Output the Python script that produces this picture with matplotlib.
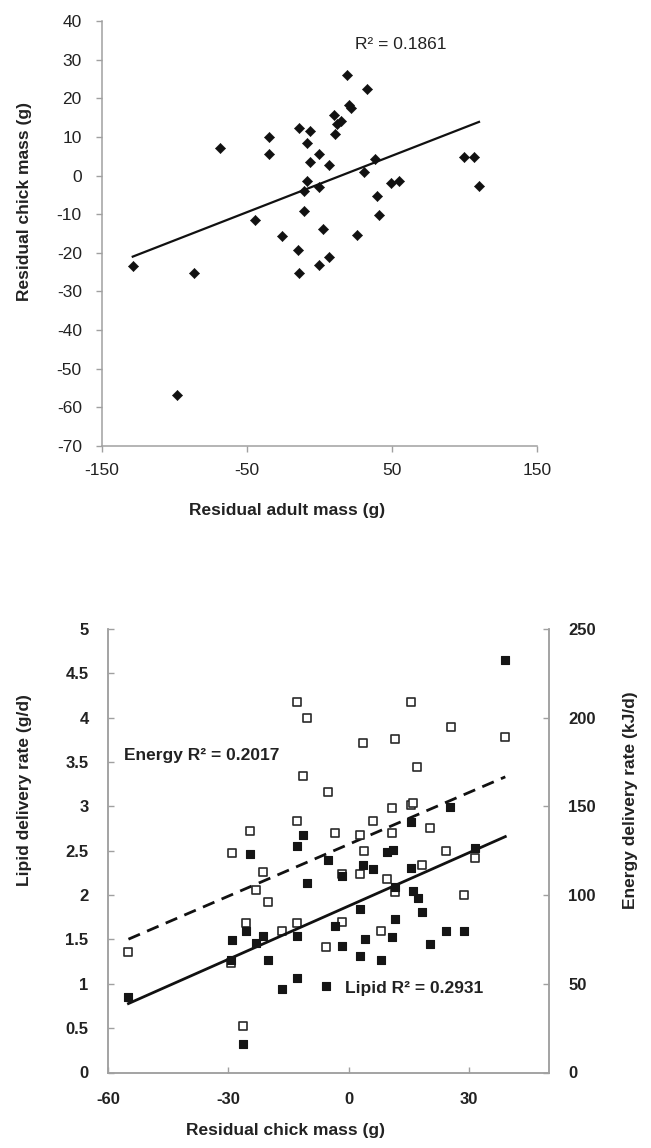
import numpy as np
import matplotlib
matplotlib.use("Agg")
import matplotlib.pyplot as plt

plt.rcParams['font.family'] = ['Liberation Sans', 'DejaVu Sans']
plt.rcParams['axes.unicode_minus'] = False

# ---------------- Data: top panel ----------------
adult_x = [-128.8, -86.3, -68.6, -34.8, -34.8, -44.7, -25.9, -13.9, -6.6, -8.4,
           -0.6, -6.6, 6.3, -8.8, -10.7, -0.1, -10.5, -14.8, -13.9, -0.6,
           6.6, 2.2, 18.8, 32.6, 20.1, 21.5, 9.8, 14.6, 11.9, 10.9,
           26.1, 30.7, 38.5, 39.7, 40.8, 49.1, 55.0, 99.9, 106.8, 110.0, -98.3]
chick_y = [-23.5, -25.1, 7.1, 9.9, 5.5, -11.4, -15.6, 12.4, 11.5, 8.5,
           5.5, 3.5, 2.7, -1.3, -3.9, -3.0, -9.2, -19.4, -25.1, -23.2,
           -21.1, -13.9, 26.1, 22.3, 18.3, 17.6, 15.7, 14.1, 13.4, 10.7,
           -15.5, 1.0, 4.4, -5.2, -10.2, -2.0, -1.3, 4.7, 4.9, -2.8, -56.8]
top_r2_label = "R\u00b2 = 0.1861"
top_xticks = [-150, -50, 50, 150]
top_yticks = [40, 30, 20, 10, 0, -10, -20, -30, -40, -50, -60, -70]

# ---------------- Data: bottom panel ----------------
lipid_x = [39.1, -11.4, -12.9, -24.7, -5.0, 25.4, 15.6, 9.6, 11.1, 31.6,
           3.5, 6.0, 15.6, -1.7, -10.4, 11.6, 16.1, 17.2, 2.8, 18.2,
           11.6, -3.4, -25.7, 24.4, 28.7, -29.1, -21.4, -23.0, -12.9, 4.0,
           10.9, -1.7, 20.2, -29.4, -20.1, 2.8, 8.0, -12.8, -16.7, -5.6,
           -54.9, -26.4]
lipid_y = [4.65, 2.68, 2.55, 2.46, 2.40, 2.99, 2.82, 2.49, 2.51, 2.53,
           2.34, 2.29, 2.30, 2.21, 2.14, 2.09, 2.05, 1.97, 1.84, 1.81,
           1.73, 1.65, 1.59, 1.60, 1.60, 1.49, 1.54, 1.46, 1.54, 1.51,
           1.53, 1.43, 1.45, 1.27, 1.27, 1.31, 1.27, 1.07, 0.94, 0.97,
           0.85, 0.32]
energy_x = [-12.9, -10.4, 15.6, 25.5, 39.1, 3.5, 11.7, 17.1, -11.4, -5.1,
            10.8, 15.6, 16.1, -12.9, 6.0, -24.7, -3.4, 2.8, 10.9, 20.2,
            -29.1, 3.9, 24.4, -21.4, 2.8, -1.7, 9.6, 18.2, 31.6, -23.0,
            11.6, -20.1, 28.7, -25.7, -12.8, -16.7, -1.7, 8.0, -5.6, -54.9,
            -29.4, -26.4]
energy_y = [209, 200, 209, 195, 189, 186, 188, 172, 167, 158,
            149, 151, 152, 142, 142, 136, 135, 134, 135, 138,
            124, 125, 125, 113, 112, 112, 109, 117, 121, 103,
            102, 96, 100, 84, 84, 80, 85, 80, 71, 68,
            62, 26]
energy_r2_label = "Energy R\u00b2 = 0.2017"
lipid_r2_label = "Lipid R\u00b2 = 0.2931"
bot_xticks = [-60, -30, 0, 30]
lipid_ticks = [0, 0.5, 1, 1.5, 2, 2.5, 3, 3.5, 4, 4.5, 5]
lipid_ticklabels = ["0", "0.5", "1", "1.5", "2", "2.5", "3", "3.5", "4", "4.5", "5"]
energy_ticks = [0, 50, 100, 150, 200, 250]

W, H = 651, 1148
fig = plt.figure(figsize=(W / 100, H / 100), dpi=100)
spine_col = '#a0a0a0'
ink = '#111111'

# ================= Top panel =================
ax = fig.add_axes([102 / W, 1 - 446 / H, (537 - 102) / W, (446 - 21) / H])
ax.scatter(adult_x, chick_y, marker='D', s=27, color=ink, edgecolor=ink,
           linewidth=0.4, zorder=3)
xa = np.array(adult_x)
ya = np.array(chick_y)
m, b = np.polyfit(xa, ya, 1)
xx = np.array([xa.min(), xa.max()])
ax.plot(xx, m * xx + b, color=ink, lw=1.6, zorder=2)
ax.text(56, 34, top_r2_label, ha='center', va='center', fontsize=12.5, color='#222222')
ax.set_xlim(-150, 150)
ax.set_ylim(-70, 40)
ax.set_xticks(top_xticks)
ax.set_yticks(top_yticks)
for s in ['top', 'right']:
    ax.spines[s].set_visible(False)
for s in ['left', 'bottom']:
    ax.spines[s].set_color(spine_col)
    ax.spines[s].set_linewidth(1.1)
ax.tick_params(axis='both', direction='out', length=4.5, width=1.0,
               color=spine_col, labelsize=12.5, labelcolor='#222222')
ax.tick_params(axis='y', pad=10)
ax.tick_params(axis='x', pad=8)
fig.text(24.5 / W, 1 - 201.5 / H, "Residual chick mass (g)", rotation=90,
         ha='center', va='center', fontsize=12.5, fontweight='bold', color='#222222')
fig.text(287 / W, 1 - 511 / H, "Residual adult mass (g)",
         ha='center', va='center', fontsize=12.5, fontweight='bold', color='#222222')

# ================= Bottom panel =================
axb = fig.add_axes([108 / W, 1 - 1072.5 / H, (549 - 108) / W, (1072.5 - 629) / H])
axe = axb.twinx()
axb.set_zorder(axe.get_zorder() + 1)
axb.patch.set_visible(False)

axe.scatter(energy_x, energy_y, marker='s', s=38, facecolor='white',
            edgecolor='#2a2a2a', linewidth=1.2, zorder=3)
ex = np.array(energy_x)
ey = np.array(energy_y)
me, be = np.polyfit(ex, ey, 1)
xxe = np.array([ex.min(), ex.max()])
axe.plot(xxe, me * xxe + be, color=ink, lw=2.0, ls=(0, (4.5, 2.8)), zorder=2)

axb.scatter(lipid_x, lipid_y, marker='s', s=38, color='#151515',
            edgecolor='#151515', linewidth=0.8, zorder=3)
lx = np.array(lipid_x)
ly = np.array(lipid_y)
ml, bl = np.polyfit(lx, ly, 1)
xxl = np.array([lx.min(), lx.max()])
axb.plot(xxl, ml * xxl + bl, color=ink, lw=2.0, zorder=2)

axb.text(-56.1, 3.57, energy_r2_label, ha='left', va='center', fontsize=12.5,
         fontweight='bold', color='#222222')
axb.text(-0.9, 0.95, lipid_r2_label, ha='left', va='center', fontsize=12.5,
         fontweight='bold', color='#222222')

axb.set_xlim(-60, 50)
axb.set_ylim(0, 5)
axe.set_ylim(0, 250)
axb.set_xticks(bot_xticks)
axb.set_yticks(lipid_ticks)
axb.set_yticklabels(lipid_ticklabels)
axe.set_yticks(energy_ticks)
for a in (axb, axe):
    a.spines['top'].set_visible(False)
    for s in ['left', 'right', 'bottom']:
        a.spines[s].set_color(spine_col)
        a.spines[s].set_linewidth(1.1)
    a.tick_params(axis='both', direction='in', length=4.5, width=1.0,
                  color=spine_col, labelsize=12, labelcolor='#222222', pad=14)
for lab in axb.get_xticklabels() + axb.get_yticklabels() + axe.get_yticklabels():
    lab.set_fontweight('bold')

fig.text(24.5 / W, 1 - 790 / H, "Lipid delivery rate (g/d)", rotation=90,
         ha='center', va='center', fontsize=12.5, fontweight='bold', color='#222222')
fig.text(630 / W, 1 - 800 / H, "Energy delivery rate (kJ/d)", rotation=90,
         ha='center', va='center', fontsize=12.5, fontweight='bold', color='#222222')
fig.text(285 / W, 1 - 1131 / H, "Residual chick mass (g)",
         ha='center', va='center', fontsize=12.5, fontweight='bold', color='#222222')

fig.savefig("out.png", dpi=100)
